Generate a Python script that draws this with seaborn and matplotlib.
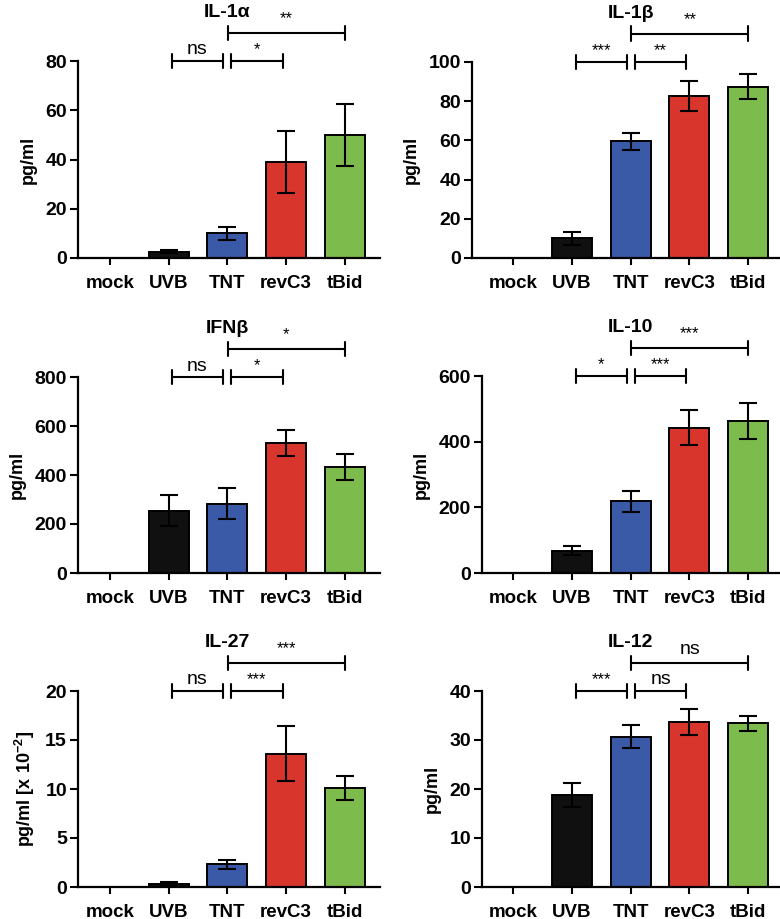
import numpy as np
import pandas as pd
import matplotlib
matplotlib.use('Agg')
import matplotlib.pyplot as plt
import seaborn as sns

sns.set_style('ticks', {'axes.edgecolor': 'black', 'text.color': 'black',
                        'axes.labelcolor': 'black', 'xtick.color': 'black',
                        'ytick.color': 'black'})
plt.rcParams['font.family'] = ['Liberation Sans', 'DejaVu Sans']
plt.rcParams['mathtext.fontset'] = 'custom'
plt.rcParams['mathtext.rm'] = 'Liberation Sans:bold'
plt.rcParams['mathtext.bf'] = 'Liberation Sans:bold'

# groups and colours
groups = ['mock', 'UVB', 'TNT', 'revC3', 'tBid']
colors = ['#ffffff', '#101010', '#3a5aa8', '#d8362c', '#7dbc4c']

# panel data (means and error bars)
titles = ['IL-1α', 'IL-1β', 'IFNβ', 'IL-10', 'IL-27', 'IL-12']
ylabels = ['pg/ml', 'pg/ml', 'pg/ml', 'pg/ml', r'pg/ml [x 10$^{\mathbf{-2}}$]', 'pg/ml']
il1a = [0, 2.5, 10.0, 39.0, 50.0]
il1a_err = [0, 0.6, 2.7, 12.5, 12.7]
il1b = [0, 10.0, 59.5, 82.5, 87.5]
il1b_err = [0, 3.5, 4.3, 7.7, 6.5]
ifnb = [0, 255, 283, 530, 433]
ifnb_err = [0, 65, 62, 52, 52]
il10 = [0, 68, 218, 443, 463]
il10_err = [0, 14, 33, 53, 55]
il27 = [0, 0.3, 2.3, 13.6, 10.1]
il27_err = [0, 0.2, 0.5, 2.8, 1.2]
il12 = [0, 18.8, 30.7, 33.7, 33.4]
il12_err = [0, 2.5, 2.4, 2.6, 1.6]

means = [il1a, il1b, ifnb, il10, il27, il12]
errors = [il1a_err, il1b_err, ifnb_err, il10_err, il27_err, il12_err]
ymax = [80, 100, 800, 600, 20, 40]
ystep = [20, 20, 200, 200, 5, 10]

# significance labels: UVB-TNT, TNT-revC3, TNT-tBid
sig = [['ns', '*', '**'],
       ['***', '**', '**'],
       ['ns', '*', '*'],
       ['*', '***', '***'],
       ['ns', '***', '***'],
       ['***', 'ns', 'ns']]

W, H = 780, 919
# axes boxes in pixels: left, top, right, bottom, xlim left, xlim right
boxes = [(78, 61, 380, 258, -0.545, 4.6),
         (472, 62, 780, 258, -0.70, 4.54),
         (78, 377, 380, 573, -0.545, 4.6),
         (482, 376, 780, 573, -0.53, 4.54),
         (78, 691, 380, 887, -0.545, 4.6),
         (482, 691, 780, 887, -0.53, 4.54)]

fig = plt.figure(figsize=(W / 100, H / 100), dpi=100)

for i in range(6):
    l, t, r, b, x0, x1 = boxes[i]
    ax = fig.add_axes([l / W, 1 - b / H, (r - l) / W, (b - t) / H])
    df = pd.DataFrame({'group': groups, 'value': means[i]})
    sns.barplot(data=df, x='group', y='value', hue='group', palette=colors,
                legend=False, edgecolor='black', linewidth=1.4, width=0.68,
                saturation=1, errorbar=None, ax=ax)
    ax.errorbar(np.arange(1, 5), means[i][1:], yerr=errors[i][1:], fmt='none',
                ecolor='black', elinewidth=1.5, capsize=6.8, capthick=1.5,
                zorder=5)
    ax.set_xlim(x0, x1)
    ax.set_ylim(0, ymax[i])
    ax.set_yticks(np.arange(0, ymax[i] + ystep[i] / 2, ystep[i]))
    ax.set_xlabel('')
    ax.set_ylabel(ylabels[i], fontsize=13, fontweight='bold', labelpad=6)
    sns.despine(ax=ax)
    for s in ['left', 'bottom']:
        ax.spines[s].set_linewidth(1.6)
    ax.tick_params(axis='y', length=6, width=1.5, labelsize=14, pad=2)
    ax.tick_params(axis='x', length=5, width=1.5, labelsize=13.5, pad=7)
    for lab in ax.get_xticklabels() + ax.get_yticklabels():
        lab.set_fontweight('bold')

    # brackets above the axes
    tr = ax.get_xaxis_transform()
    hpx = b - t
    d = 7 / hpx
    if i % 2 == 0:
        spans = [(1.06, 1.92), (2.06, 2.94), (2.01, 4.0)]
    else:
        spans = [(1.07, 1.93), (2.08, 2.94), (2.01, 4.0)]
    levels = [1.0, 1.0, 1 + 28.5 / hpx]
    text_y = [1 + 6.5 / hpx, 1 + 6.5 / hpx, 1 + 37.5 / hpx]
    for (xa, xb), yl, ty, s in zip(spans, levels, text_y, sig[i]):
        ax.plot([xa, xb], [yl, yl], color='black', lw=1.5, transform=tr, clip_on=False)
        ax.plot([xa, xa], [yl - d, yl + d], color='black', lw=1.5, transform=tr, clip_on=False)
        ax.plot([xb, xb], [yl - d, yl + d], color='black', lw=1.5, transform=tr, clip_on=False)
        ax.text((xa + xb) / 2, ty, s, transform=tr, ha='center', va='baseline',
                fontsize=14 if s == 'ns' else 12)
    ax.text(2.0, 1 + 44 / hpx, titles[i], transform=tr, ha='center',
            va='baseline', fontsize=14, fontweight='bold')

fig.savefig('out.png', dpi=100)
